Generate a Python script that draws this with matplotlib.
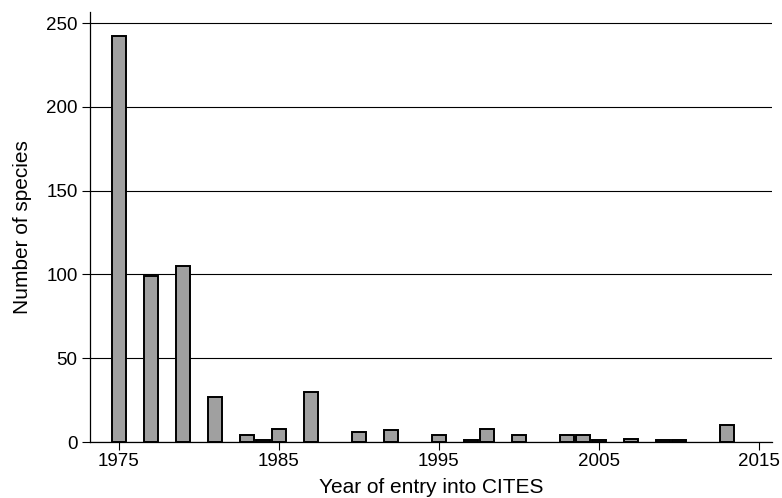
import matplotlib
matplotlib.use("Agg")
import matplotlib.pyplot as plt

years = [1975, 1977, 1979, 1981, 1983, 1984, 1985, 1987, 1990, 1992, 1995,
         1997, 1998, 2000, 2003, 2004, 2005, 2007, 2009, 2010, 2013]
counts = [242, 99, 105, 27, 4, 1, 8, 30, 6, 7, 4,
          1, 8, 4, 4, 4, 1, 2, 1, 1, 10]
xticks = [1975, 1985, 1995, 2005, 2015]
yticks = [0, 50, 100, 150, 200, 250]

plt.rcParams['font.family'] = ['Liberation Sans', 'DejaVu Sans']

fig = plt.figure(figsize=(7.82, 4.98), dpi=100)
ax = fig.add_axes([0.1151, 0.1124, 0.8721, 0.8635])

ax.bar(years, counts, width=0.86, color='#a0a0a0', edgecolor='black',
       linewidth=1.4, zorder=3)

ax.set_xlim(1973.2, 2015.83)
ax.set_ylim(0, 256.6)
ax.set_xticks(xticks)
ax.set_yticks(yticks)
ax.yaxis.grid(True, color='black', linewidth=0.8)
ax.set_axisbelow(True)

for s in ['top', 'right']:
    ax.spines[s].set_visible(False)
ax.spines['left'].set_linewidth(0.9)
ax.spines['bottom'].set_linewidth(0.9)
ax.tick_params(axis='both', direction='out', length=6, width=0.8,
               labelsize=13.5, colors='black')
ax.tick_params(axis='x', pad=2)
ax.tick_params(axis='y', pad=3)

ax.set_xlabel('Year of entry into CITES', fontsize=15, labelpad=6)
ax.set_ylabel('Number of species', fontsize=15, labelpad=10)

fig.savefig('out.png', dpi=100)
